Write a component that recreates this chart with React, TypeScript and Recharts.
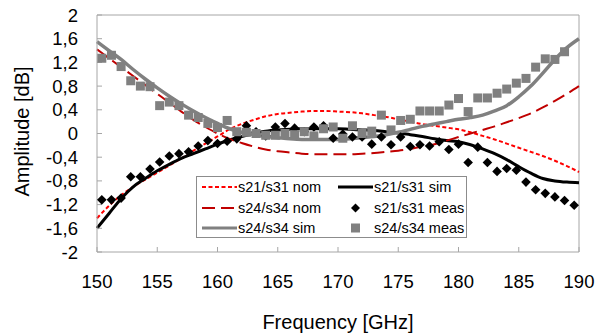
import {
  ComposedChart,
  Line,
  Scatter,
  XAxis,
  YAxis,
  Legend,
  ReferenceLine,
} from "recharts";

const FONT = "'Liberation Sans', Arial, sans-serif";

// simulated / nominal curves, 1 GHz grid
const FREQ_SIM = [
  150, 151, 152, 153, 154, 155, 156, 157, 158, 159, 160, 161, 162, 163, 164, 165, 166, 167, 168, 169, 170,
  171, 172, 173, 174, 175, 176, 177, 178, 179, 180, 181, 182, 183, 184, 185, 186, 187, 188, 189, 190,
];
const S21_NOM = [
  -1.43, -1.22, -1.04, -0.9, -0.78, -0.66, -0.54, -0.42, -0.29, -0.17, -0.05, 0.07, 0.16, 0.23, 0.29, 0.33,
  0.35, 0.37, 0.38, 0.38, 0.37, 0.36, 0.34, 0.31, 0.28, 0.24, 0.2, 0.16, 0.13, 0.1, 0.07, 0.02, -0.04, -0.1,
  -0.17, -0.24, -0.31, -0.38, -0.46, -0.55, -0.65,
];
const S24_NOM = [
  1.42, 1.27, 1.12, 0.97, 0.82, 0.67, 0.52, 0.37, 0.23, 0.11, 0.0, -0.09, -0.16, -0.22, -0.27, -0.3, -0.32,
  -0.34, -0.35, -0.35, -0.35, -0.35, -0.34, -0.33, -0.31, -0.29, -0.26, -0.22, -0.18, -0.12, -0.06, 0.0, 0.06,
  0.12, 0.19, 0.26, 0.34, 0.44, 0.55, 0.67, 0.8,
];
const S21_SIM = [
  -1.6, -1.35, -1.1, -0.9, -0.76, -0.63, -0.52, -0.42, -0.34, -0.26, -0.18, -0.11, -0.05, 0.0, 0.04, 0.06,
  0.07, 0.08, 0.08, 0.08, 0.08, 0.07, 0.06, 0.05, 0.03, 0.01, -0.02, -0.05, -0.09, -0.12, -0.14, -0.19, -0.26,
  -0.34, -0.44, -0.56, -0.67, -0.76, -0.8, -0.82, -0.83,
];
const S24_SIM = [
  1.55, 1.4, 1.25, 1.08, 0.92, 0.77, 0.63, 0.5, 0.38, 0.27, 0.17, 0.08, 0.02, -0.02, -0.05, -0.07, -0.09,
  -0.1, -0.1, -0.1, -0.1, -0.09, -0.07, -0.05, -0.02, 0.02, 0.07, 0.12, 0.16, 0.2, 0.24, 0.27, 0.31, 0.38,
  0.47, 0.62, 0.8, 1.02, 1.25, 1.45, 1.6,
];

// measurements
const FREQ_MEAS = [
  150.4, 151.2, 152.0, 152.8, 153.6, 154.4, 155.2, 156.0, 156.8, 157.6, 158.4, 159.2, 160.0, 160.8, 161.6,
  162.4, 163.2, 164.0, 164.8, 165.6, 166.4, 167.2, 168.0, 168.8, 169.6, 170.4, 171.2, 172.0, 172.8, 173.6,
  174.4, 175.2, 176.0, 176.8, 177.6, 178.4, 179.2, 180.0, 180.8, 181.6, 182.4, 183.2, 184.0, 184.8, 185.6,
  186.4, 187.2, 188.0, 188.8, 189.6,
];
const S21_MEAS = [
  -1.12, -1.12, -1.09, -0.73, -0.73, -0.6, -0.48, -0.38, -0.34, -0.31, -0.21, -0.12, -0.17, -0.13, -0.09,
  0.13, 0.03, -0.04, 0.11, 0.17, 0.09, 0.03, 0.11, 0.13, -0.08, -0.01, -0.06, -0.06, -0.18, -0.06, -0.19,
  -0.06, -0.22, -0.19, -0.21, -0.14, -0.27, -0.18, -0.49, -0.23, -0.49, -0.64, -0.59, -0.62, -0.82, -0.95,
  -1.01, -1.07, -1.13, -1.21,
];
const S24_MEAS = [
  1.27, 1.32, 1.13, 0.89, 0.8, 0.79, 0.47, 0.53, 0.47, 0.31, 0.27, 0.17, 0.1, 0.22, 0.03, 0.02, 0.0, -0.03,
  -0.03, 0.0, -0.02, 0.03, -0.04, 0.08, 0.11, -0.08, 0.13, 0.0, 0.04, 0.31, 0.06, 0.22, 0.24, 0.38, 0.38,
  0.38, 0.48, 0.59, 0.37, 0.6, 0.6, 0.68, 0.75, 0.85, 0.93, 1.12, 1.26, 1.25, 1.38, null,
];

const X_TICKS = [150, 155, 160, 165, 170, 175, 180, 185, 190];
const Y_TICKS = [-2, -1.6, -1.2, -0.8, -0.4, 0, 0.4, 0.8, 1.2, 1.6, 2];

const toPoints = (xs: number[], ys: (number | null)[]) =>
  xs.map((x, i) => ({ x, y: ys[i] })).filter((p) => p.y !== null);

const nom21 = toPoints(FREQ_SIM, S21_NOM);
const nom24 = toPoints(FREQ_SIM, S24_NOM);
const sim21 = toPoints(FREQ_SIM, S21_SIM);
const sim24 = toPoints(FREQ_SIM, S24_SIM);
const meas21 = toPoints(FREQ_MEAS, S21_MEAS);
const meas24 = toPoints(FREQ_MEAS, S24_MEAS);

const RED = "#ff0000";
const DARK_RED = "#c00000";
const GRAY = "#808080";
const FRAME = "#a6a6a6";

// the chart fills the whole page
if (typeof document !== "undefined") document.body.style.margin = "0";

const fmtY = (v: number) => (Number.isInteger(v) ? String(v) : v.toFixed(1).replace(".", ","));

// eslint-disable-next-line @typescript-eslint/no-explicit-any
const Diamond = ({ cx, cy }: any) => {
  if (cx == null || cy == null) return null;
  const r = 4.8;
  return <polygon points={`${cx},${cy - r} ${cx + r},${cy} ${cx},${cy + r} ${cx - r},${cy}`} fill="#000" />;
};

// eslint-disable-next-line @typescript-eslint/no-explicit-any
const Square = ({ cx, cy }: any) => {
  if (cx == null || cy == null) return null;
  return <rect x={cx - 4.5} y={cy - 4.5} width={9} height={9} fill={GRAY} />;
};

type Kind = "nom21" | "nom24" | "sim21" | "sim24" | "meas21" | "meas24";

// row-wise, two columns (same as the original legend)
const LEGEND_ITEMS: { kind: Kind; name: string }[] = [
  { kind: "nom21", name: "s21/s31 nom" },
  { kind: "sim21", name: "s21/s31 sim" },
  { kind: "nom24", name: "s24/s34 nom" },
  { kind: "meas21", name: "s21/s31 meas" },
  { kind: "sim24", name: "s24/s34 sim" },
  { kind: "meas24", name: "s24/s34 meas" },
];

function Sample({ kind }: { kind: Kind }) {
  return (
    <svg width={35} height={12} style={{ display: "block", flex: "none" }}>
      {kind === "nom21" && <line x1={0} y1={6} x2={35} y2={6} stroke={RED} strokeWidth={2} strokeDasharray="4 2.5" />}
      {kind === "nom24" && <line x1={0} y1={6} x2={35} y2={6} stroke={DARK_RED} strokeWidth={2} strokeDasharray="13 6" />}
      {kind === "sim21" && <line x1={0} y1={6} x2={35} y2={6} stroke="#000" strokeWidth={3} />}
      {kind === "sim24" && <line x1={0} y1={6} x2={35} y2={6} stroke={GRAY} strokeWidth={3} />}
      {kind === "meas21" && <polygon points="17.5,1.5 22,6 17.5,10.5 13,6" fill="#000" />}
      {kind === "meas24" && <rect x={13} y={1.5} width={9} height={9} fill={GRAY} />}
    </svg>
  );
}

function ChartLegend() {
  return (
    <div
      style={{
        boxSizing: "border-box",
        width: 271,
        height: 62,
        border: "1px solid #8c8c8c",
        background: "#fff",
        padding: "0 0 0 5px",
        display: "grid",
        gridTemplateColumns: "136px 128px",
        gridAutoRows: "20.5px",
        alignItems: "center",
        fontFamily: FONT,
        fontSize: 14.5,
        color: "#000",
      }}
    >
      {LEGEND_ITEMS.map((it) => (
        <div key={it.kind} style={{ display: "flex", alignItems: "center", whiteSpace: "nowrap" }}>
          <Sample kind={it.kind} />
          <span style={{ marginLeft: 1 }}>{it.name}</span>
        </div>
      ))}
    </div>
  );
}

export default function App() {
  return (
    <ComposedChart
      width={608}
      height={333}
      margin={{ top: 15, right: 29, left: 8, bottom: 0 }}
      style={{ fontFamily: FONT }}
    >
      <XAxis
        dataKey="x"
        type="number"
        domain={[150, 190]}
        ticks={X_TICKS}
        interval={0}
        height={81}
        stroke={FRAME}
        tickSize={-5}
        tickMargin={28}
        tick={{ fontSize: 18.5, fill: "#000", fontFamily: FONT }}
        label={{
          // eslint-disable-next-line @typescript-eslint/no-explicit-any
          content: ({ viewBox }: any) => (
            <text
              x={viewBox.x + viewBox.width / 2}
              y={viewBox.y + viewBox.height - 4}
              textAnchor="middle"
              fontSize={20}
              fontFamily={FONT}
              fill="#000"
            >
              Frequency [GHz]
            </text>
          ),
        }}
      />
      <YAxis
        dataKey="y"
        type="number"
        domain={[-2, 2]}
        ticks={Y_TICKS}
        interval={0}
        tickFormatter={fmtY}
        width={89}
        stroke={FRAME}
        tickSize={-5}
        tickMargin={24}
        tick={{ fontSize: 18.5, fill: "#000", fontFamily: FONT }}
        label={{
          // eslint-disable-next-line @typescript-eslint/no-explicit-any
          content: ({ viewBox }: any) => {
            const cx = 22;
            const cy = viewBox.y + viewBox.height / 2 - 2;
            return (
              <text
                x={cx}
                y={cy}
                transform={`rotate(-90 ${cx} ${cy})`}
                textAnchor="middle"
                dominantBaseline="central"
                fontSize={20}
                fontFamily={FONT}
                fill="#000"
              >
                Amplitude [dB]
              </text>
            );
          },
        }}
      />
      <ReferenceLine y={2} stroke={FRAME} />
      <ReferenceLine x={190} stroke={FRAME} />

      <Line data={nom21} dataKey="y" type="monotone" stroke={RED} strokeWidth={2} strokeDasharray="4 2.5" dot={false} isAnimationActive={false} />
      <Line data={sim21} dataKey="y" type="monotone" stroke="#000" strokeWidth={3} dot={false} isAnimationActive={false} />
      <Line data={nom24} dataKey="y" type="monotone" stroke={DARK_RED} strokeWidth={2} strokeDasharray="13 6" dot={false} isAnimationActive={false} />
      <Scatter data={meas21} dataKey="y" shape={Diamond} isAnimationActive={false} />
      <Line data={sim24} dataKey="y" type="monotone" stroke={GRAY} strokeWidth={3.5} dot={false} isAnimationActive={false} />
      <Scatter data={meas24} dataKey="y" shape={Square} isAnimationActive={false} />

      <Legend
        layout="horizontal"
        verticalAlign="middle"
        align="center"
        content={() => <ChartLegend />}
        wrapperStyle={{ left: 196, top: 176, width: 271, height: 62 }}
      />
    </ComposedChart>
  );
}
